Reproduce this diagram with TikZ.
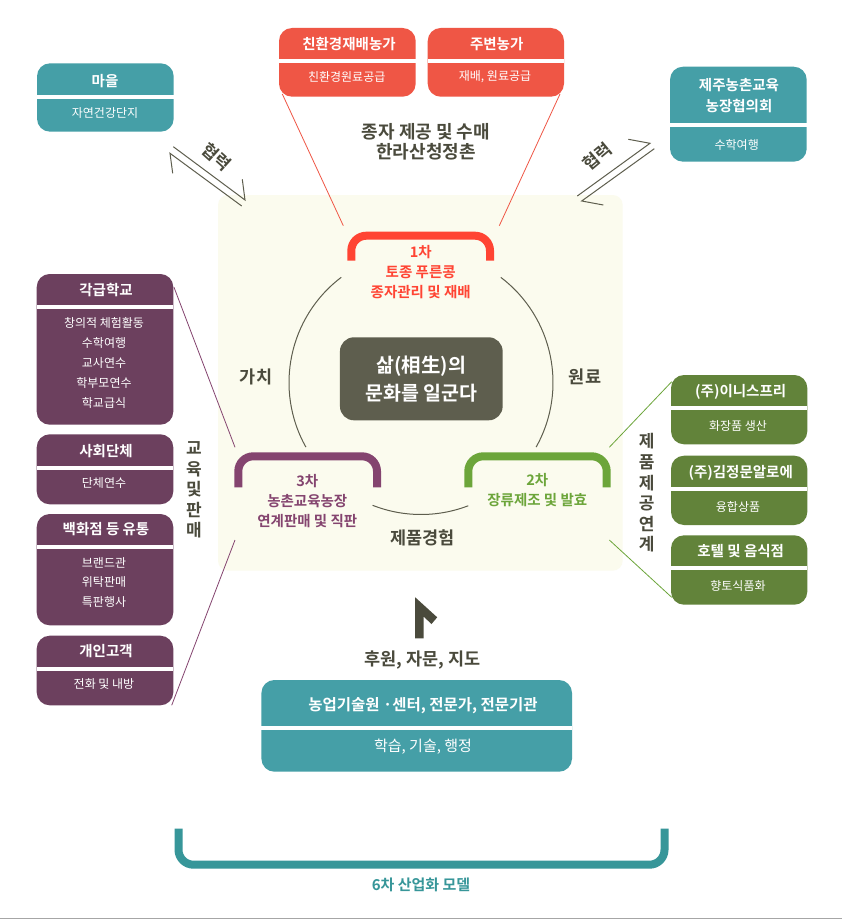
\documentclass[tikz,border=0pt]{standalone}
\usepackage{fontspec}
\setmainfont{Noto Sans CJK KR}[BoldFont={Noto Sans CJK KR Bold}]
\definecolor{cteal}{HTML}{459FA7}
\definecolor{cbrack}{HTML}{379699}
\definecolor{cred}{HTML}{EF5645}
\definecolor{credb}{HTML}{FF4433}
\definecolor{cpur}{HTML}{6C405E}
\definecolor{cpurb}{HTML}{84446F}
\definecolor{cgrn}{HTML}{62833A}
\definecolor{cgrnb}{HTML}{6CA53A}
\definecolor{cdark}{HTML}{5E5E4E}
\definecolor{cink}{HTML}{4A4A3C}
\definecolor{cpanel}{HTML}{FBFBEE}
\tikzset{
  cardbody/.style={rounded corners=13pt,inner sep=0pt,outer sep=0pt,draw=none},
  cardhead/.style={inner sep=0pt,yshift=-.7pt,text=white,font=\fontsize{14.5}{19}\selectfont\bfseries,align=center},
  cardsub/.style={inner sep=0pt,yshift=-.7pt,text=white,font=\fontsize{12}{15}\selectfont,align=center},
  inklabel/.style={inner sep=0pt,text=cink,font=\fontsize{17.5}{20}\selectfont\bfseries,align=center},
  vlabel/.style={inner sep=0pt,text=cink,font=\fontsize{17}{20.6}\selectfont\bfseries,align=center},
  ringarc/.style={draw=cdark,line width=1pt},
  halfarrow/.style={draw=cdark,line width=1pt},
  bracket/.style={line width=8pt,rounded corners=15pt},
  tierlabel/.style={inner sep=0pt,font=\fontsize{14.5}{20}\selectfont\bfseries,align=center},
  feeder/.style={line width=.8pt}
}
% name, x0, y0, x1, y1, bar top, colour
\newcommand{\cardbox}[7]{%
  \pgfmathsetmacro{\cw}{#4-#2}\pgfmathsetmacro{\chh}{#5-#3}%
  \pgfmathsetmacro{\ccx}{(#2+#4)/2}\pgfmathsetmacro{\ccy}{(#3+#5)/2}%
  \node[cardbody,fill=#7,minimum width=\cw pt,minimum height=\chh pt] (#1) at (\ccx,\ccy) {};
  \pgfmathsetmacro{\bb}{#6+4}%
  \fill[white] (#2,#6) rectangle (#4,\bb);
}
\begin{document}
\begin{tikzpicture}[x=1pt,y=-1pt]
\useasboundingbox (0,0) rectangle (842,920);
\fill[white] (0,0) rectangle (842,920);
\draw[color=black!35,line width=1pt] (0,918) -- (842,918);
% panel
\node[fill=cpanel,rounded corners=10pt,inner sep=0pt,minimum width=404.7pt,minimum height=375.7pt] (panel) at (420.35,382.85) {};

% top cards
\cardbox{orgfarm}{279}{28}{415.7}{96.7}{59}{cred}
\node[cardhead] (orgfarmh) at (349,43.3) {친환경재배농가};
\node[cardsub] (orgfarms) at (346.7,76) {친환경원료공급};
\cardbox{nearfarm}{427.7}{28}{564}{96.7}{59}{cred}
\node[cardhead] (nearfarmh) at (496.7,43.3) {주변농가};
\node[cardsub] (nearfarms) at (495,76) {재배, 원료공급};
\node[inklabel,font=\fontsize{18}{20}\selectfont\bfseries] (seedlabel) at (426,141.5) {종자 제공 및 수매\\한라산청정촌};

% upper side cards
\cardbox{village}{37}{63.3}{173.7}{131.7}{95}{cteal}
\node[cardhead] (villageh) at (105,80) {마을};
\node[cardsub] (villages) at (105,112.5) {자연건강단지};
\cardbox{jeju}{670}{66.7}{806.7}{161.7}{122.7}{cteal}
\node[cardhead,font=\fontsize{14.5}{21}\selectfont\bfseries] (jejuh) at (739,94.5) {제주농촌교육\\농장협의회};
\node[cardsub] (jejus) at (736.7,144.3) {수학여행};

% half arrows
\coordinate (la1) at (172.7,173.3); \coordinate (la2) at (170,153.3); \coordinate (la3) at (241.7,206);
\coordinate (lb1) at (173.3,146.7); \coordinate (lb2) at (245,200); \coordinate (lb3) at (242.3,179.3);
\draw[halfarrow] (la1) -- (la2) -- (la3);
\draw[halfarrow] (lb1) -- (lb2) -- (lb3);
\coordinate (ra1) at (577.3,196); \coordinate (ra2) at (650,143.3); \coordinate (ra3) at (628.3,139.3);
\coordinate (rb1) at (654.3,148.7); \coordinate (rb2) at (581.7,201); \coordinate (rb3) at (603.3,205);
\draw[halfarrow] (ra1) -- (ra2) -- (ra3);
\draw[halfarrow] (rb1) -- (rb2) -- (rb3);
\node[inklabel,font=\fontsize{17}{18}\selectfont\bfseries,rotate=-42] (coopl) at (216.7,156.7) {협력};
\node[inklabel,font=\fontsize{17}{18}\selectfont\bfseries,rotate=40] (coopr) at (597,157) {협력};

% left cards
\cardbox{school}{36.7}{274}{173.3}{424.7}{304.7}{cpur}
\node[cardhead] (schoolh) at (106,289) {각급학교};
\node[cardsub] (schools1) at (104,322) {창의적 체험활동};
\node[cardsub] (schools2) at (104,342) {수학여행};
\node[cardsub] (schools3) at (104,362) {교사연수};
\node[cardsub] (schools4) at (104,382) {학부모연수};
\node[cardsub] (schools5) at (104,402) {학교급식};
\cardbox{social}{36.7}{434.3}{173.3}{504.3}{466}{cpur}
\node[cardhead] (socialh) at (106,450) {사회단체};
\node[cardsub] (socials) at (104,482.3) {단체연수};
\cardbox{dept}{36.7}{514}{173.3}{625.3}{545}{cpur}
\node[cardhead] (depth) at (106,528.3) {백화점 등 유통};
\node[cardsub] (depts1) at (104,561.7) {브랜드관};
\node[cardsub] (depts2) at (104,581.7) {위탁판매};
\node[cardsub] (depts3) at (104,601.3) {특판행사};
\cardbox{person}{36.7}{635.7}{173.3}{705.3}{667}{cpur}
\node[cardhead] (personh) at (106,650.7) {개인고객};
\node[cardsub] (persons) at (104,683.3) {전화 및 내방};
\node[vlabel] (eduv) at (194,490) {교\\육\\및\\판\\매};

% right cards
\cardbox{innis}{671}{375}{807.3}{444.3}{406}{cgrn}
\node[cardhead] (innish) at (740.7,390.7) {(주)이니스프리};
\node[cardsub] (inniss) at (738,425) {화장품 생산};
\cardbox{aloe}{671}{455.7}{807.3}{525}{487}{cgrn}
\node[cardhead] (aloeh) at (740.7,471.7) {(주)김정문알로에};
\node[cardsub] (aloes) at (738,506.7) {융합상품};
\cardbox{hotel}{671}{535.3}{807.3}{604.7}{566}{cgrn}
\node[cardhead] (hotelh) at (740.7,550.7) {호텔 및 음식점};
\node[cardsub] (hotels) at (738,585.7) {향토식품화};
\node[vlabel] (prodv) at (646.7,493) {제\\품\\제\\공\\연\\계};

% ring
\coordinate (ringc) at (421,382.5);
\draw[ringarc] ([shift={(127.2:132pt)}]ringc) arc[start angle=127.2,end angle=209.3,radius=132pt];
\draw[ringarc] ([shift={(52.8:132pt)}]ringc) arc[start angle=52.8,end angle=-29.3,radius=132pt];
\draw[ringarc] ([shift={(248.5:132pt)}]ringc) arc[start angle=248.5,end angle=291,radius=132pt];

% centre
\node[fill=cdark,rounded corners=14pt,inner sep=0pt,minimum width=162.7pt,minimum height=83pt,text=white,font=\fontsize{19.5}{28}\selectfont\bfseries,align=center] (core) at (421.3,378.8) {삶(相生)의\\문화를 일군다};
\node[inklabel] (valuel) at (256,376.7) {가치};
\node[inklabel] (rawl) at (585,376.7) {원료};
\node[inklabel] (expl) at (422.7,538.3) {제품경험};

% tier brackets
\draw[bracket,draw=credb] (351.3,260.7) -- (351.3,235.7) -- (490,235.7) -- (490,260.7);
\node[tierlabel,text=credb] (t1) at (420.7,272.5) {1차\\토종 푸른콩\\종자관리 및 재배};
\draw[bracket,draw=cpurb] (238.3,487.3) -- (238.3,456.3) -- (377,456.3) -- (377,487.3);
\node[tierlabel,text=cpurb] (t3) at (307.3,501) {3차\\농촌교육농장\\연계판매 및 직판};
\draw[bracket,draw=cgrnb] (468.3,487.3) -- (468.3,456.3) -- (606.7,456.3) -- (606.7,487.3);
\node[tierlabel,text=cgrnb] (t2) at (537.3,490) {2차\\장류제조 및 발효};

% feeders
\coordinate (f1) at (282.3,94); \coordinate (f1e) at (343.3,225.7);
\coordinate (f2) at (560,94); \coordinate (f2e) at (499.3,225.7);
\draw[feeder,draw=cred] (f1) -- (f1e);
\draw[feeder,draw=cred] (f2) -- (f2e);
\coordinate (f3) at (174,287.3); \coordinate (f3e) at (235,447.3);
\coordinate (f4) at (171.7,705.3); \coordinate (f4e) at (235,540);
\draw[feeder,draw=cpurb] (f3) -- (f3e);
\draw[feeder,draw=cpurb] (f4) -- (f4e);
\coordinate (f5) at (671.7,381.7); \coordinate (f5e) at (609.3,447.3);
\coordinate (f6) at (671.7,597.3); \coordinate (f6e) at (609.3,540);
\draw[feeder,draw=cgrnb] (f5) -- (f5e);
\draw[feeder,draw=cgrnb] (f6) -- (f6e);

% support arrow
\fill[color=cink] (415.2,597.3) -- (437.2,617.3) -- (431.5,624) -- (423.7,616.7) -- (423.7,638.3) -- (415.2,638.3) -- cycle;
\node[inklabel] (support) at (422.7,660) {후원, 자문, 지도};
\cardbox{agri}{261.4}{680}{572}{771.7}{726}{cteal}
\node[cardhead,font=\fontsize{15.5}{19}\selectfont\bfseries] (agrih) at (423,705) {농업기술원 ·센터, 전문가, 전문기관};
\node[cardsub,font=\fontsize{15}{17}\selectfont] (agris) at (423,746) {학습, 기술, 행정};

% six-sector bracket
\draw[bracket,draw=cbrack] (178.5,828.7) -- (178.5,864.7) -- (664.5,864.7) -- (664.5,828.7);
\node[inner sep=0pt,text=cbrack,font=\fontsize{15}{17}\selectfont\bfseries] (six) at (421,885) {6차 산업화 모델};
\end{tikzpicture}
\end{document}
